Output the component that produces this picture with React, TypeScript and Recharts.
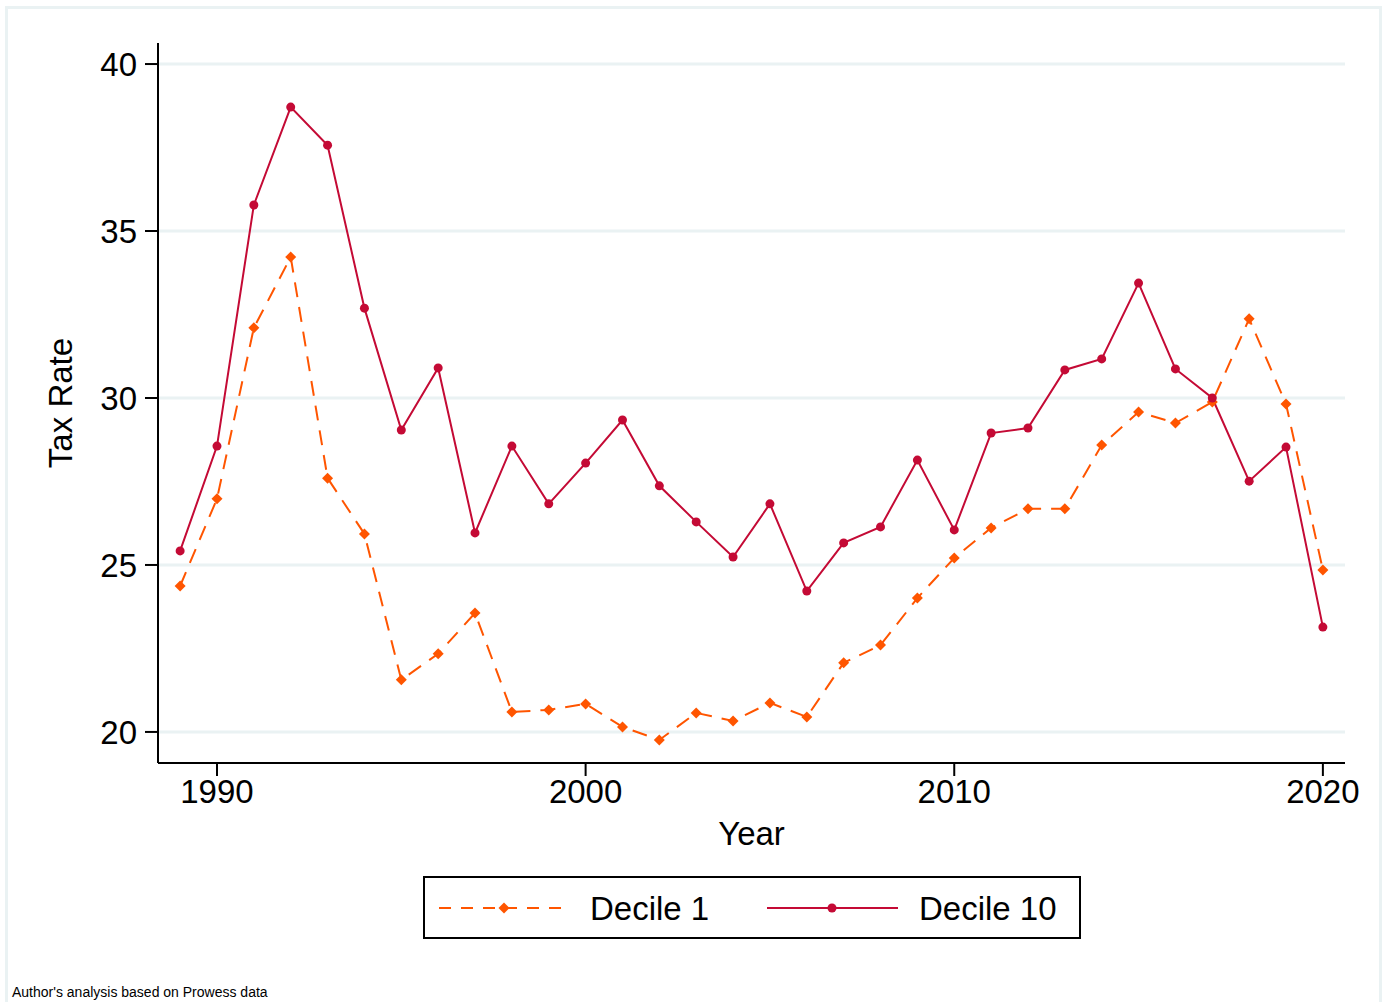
import React from 'react';
import { LineChart, Line, XAxis, YAxis, ReferenceLine, Label } from 'recharts';

const years = [
  1989, 1990, 1991, 1992, 1993, 1994, 1995, 1996, 1997, 1998, 1999, 2000, 2001, 2002, 2003, 2004,
  2005, 2006, 2007, 2008, 2009, 2010, 2011, 2012, 2013, 2014, 2015, 2016, 2017, 2018, 2019, 2020,
];

const decile1 = [
  24.37, 26.98, 32.1, 34.22, 27.6, 25.93, 21.56, 22.34, 23.56, 20.6, 20.66, 20.84, 20.15, 19.76, 20.57, 20.33,
  20.87, 20.45, 22.07, 22.6, 24.01, 25.21, 26.11, 26.68, 26.68, 28.59, 29.58, 29.25, 29.88, 32.37, 29.82, 24.85,
];

const decile10 = [
  25.42, 28.56, 35.78, 38.71, 37.57, 32.69, 29.04, 30.9, 25.96, 28.56, 26.83, 28.05, 29.34, 27.37, 26.29, 25.24,
  26.83, 24.22, 25.66, 26.14, 28.14, 26.05, 28.95, 29.1, 30.84, 31.17, 33.44, 30.87, 30.0, 27.51, 28.53, 23.14,
];

const yTicks = [20, 25, 30, 35, 40];
const xTicks = [1990, 2000, 2010, 2020];

const ORANGE = '#FF5500';
const CRIMSON = '#C40A35';
const GRID = '#EAF2F3';
const FONT = '"Liberation Sans", Arial, Helvetica, sans-serif';

const data = years.map((year, i) => ({ year, d1: decile1[i], d10: decile10[i] }));

const Diamond = (props: any) => {
  const { cx, cy } = props;
  if (cx == null || cy == null) return null;
  const r = 5.5;
  return <path d={`M${cx},${cy - r} L${cx + r},${cy} L${cx},${cy + r} L${cx - r},${cy} Z`} fill={ORANGE} />;
};

const Dot = (props: any) => {
  const { cx, cy } = props;
  if (cx == null || cy == null) return null;
  return <circle cx={cx} cy={cy} r={4.5} fill={CRIMSON} />;
};

// legend box drawn under the plot, like the Stata original
const LegendBox = () => (
  <div
    style={{
      position: 'absolute',
      left: 423,
      top: 876,
      width: 654,
      height: 59,
      border: '2px solid #000',
      background: '#fff',
    }}
  >
    <svg width={654} height={59} style={{ position: 'absolute', left: 0, top: 0 }}>
      <line x1={14} y1={30} x2={146} y2={30} stroke={ORANGE} strokeWidth={2} strokeDasharray="12 10" />
      <path d="M79,24.5 L84.5,30 L79,35.5 L73.5,30 Z" fill={ORANGE} />
      <text x={165} y={42} fontSize={33} fontFamily={FONT} fill="#000">Decile 1</text>
      <line x1={342} y1={30} x2={473} y2={30} stroke={CRIMSON} strokeWidth={2} />
      <circle cx={407} cy={30} r={4.5} fill={CRIMSON} />
      <text x={494} y={42} fontSize={33} fontFamily={FONT} fill="#000">Decile 10</text>
    </svg>
  </div>
);

const App: React.FC = () => {
  return (
    <div style={{ position: 'absolute', left: 0, top: 0, width: 1386, height: 1002, overflow: 'hidden', background: '#fff' }}>
      <div
        style={{
          position: 'absolute',
          left: 5,
          top: 6,
          width: 1371,
          height: 1020,
          border: `3px solid ${GRID}`,
        }}
      />
      <div style={{ position: 'absolute', left: 0, top: 0 }}>
        <LineChart width={1386} height={1002} data={data} margin={{ top: 43, right: 41, left: 98, bottom: 179 }}>
          {yTicks.map((t) => (
            <ReferenceLine key={t} y={t} stroke={GRID} strokeWidth={3} ifOverflow="hidden" />
          ))}
          <XAxis
            dataKey="year"
            type="number"
            domain={[1988.4, 2020.6]}
            ticks={xTicks}
            allowDataOverflow
            height={60}
            tickSize={13}
            tickMargin={4}
            stroke="#000"
            strokeWidth={2}
            tick={{ fill: '#000', fontSize: 33, fontFamily: FONT }}
          >
            <Label
              content={(props: any) => {
                const vb = props.viewBox;
                return (
                  <text x={vb.x + vb.width / 2} y={845} textAnchor="middle" fontSize={33} fontFamily={FONT} fill="#000">
                    Year
                  </text>
                );
              }}
            />
          </XAxis>
          <YAxis
            type="number"
            domain={[19.07, 40.63]}
            ticks={yTicks}
            allowDataOverflow
            width={60}
            tickSize={13}
            tickMargin={8}
            stroke="#000"
            strokeWidth={2}
            tick={{ fill: '#000', fontSize: 33, fontFamily: FONT }}
          >
            <Label
              content={(props: any) => {
                const vb = props.viewBox;
                const cy = vb.y + vb.height / 2;
                return (
                  <text
                    x={72}
                    y={cy}
                    transform={`rotate(-90, 72, ${cy})`}
                    textAnchor="middle"
                    fontSize={33}
                    fontFamily={FONT}
                    fill="#000"
                  >
                    Tax Rate
                  </text>
                );
              }}
            />
          </YAxis>
          <Line
            type="linear"
            dataKey="d1"
            name="Decile 1"
            stroke={ORANGE}
            strokeWidth={2}
            strokeDasharray="15 10"
            dot={<Diamond />}
            isAnimationActive={false}
          />
          <Line
            type="linear"
            dataKey="d10"
            name="Decile 10"
            stroke={CRIMSON}
            strokeWidth={2}
            dot={<Dot />}
            isAnimationActive={false}
          />
        </LineChart>
      </div>
      <LegendBox />
      <div style={{ position: 'absolute', left: 12, top: 984, fontFamily: FONT, fontSize: 14, color: '#000' }}>
        Author's analysis based on Prowess data
      </div>
    </div>
  );
};

export default App;
